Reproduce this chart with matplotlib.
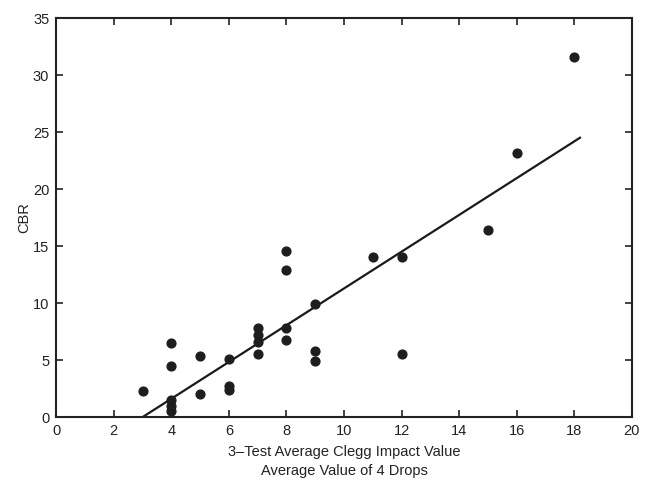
import numpy as np
import matplotlib.pyplot as plt

plt.rcParams['font.family'] = ['Liberation Sans', 'DejaVu Sans']

# clegg impact value vs CBR
clegg = [3, 4, 4, 4, 4, 4, 5, 5, 6, 6, 6, 7, 7, 7, 7, 8, 8, 8, 8,
         9, 9, 9, 11, 12, 12, 15, 16, 18]
cbr = [2.3, 6.5, 4.5, 1.5, 1.0, 0.5, 5.4, 2.0, 5.1, 2.7, 2.4, 7.8, 7.2, 6.6, 5.5,
       14.6, 12.9, 7.8, 6.8, 9.9, 5.8, 4.9, 14.0, 14.0, 5.5, 16.4, 23.2, 31.6]

# regression line end points
fit_x = [3.0, 18.2]
fit_y = [0.0, 24.5]

fig = plt.figure(figsize=(6.46, 4.8), dpi=100)
ax = fig.add_axes([0.087, 0.131, 0.891, 0.8315])

ax.scatter(clegg, cbr, s=40, color='#1e1e1e', zorder=3)
ax.plot(fit_x, fit_y, color='#1a1a1a', lw=1.6)

ax.set_xlim(0, 20)
ax.set_ylim(0, 35)
ax.set_xticks(np.arange(0, 21, 2))
ax.set_yticks(np.arange(0, 36, 5))
ax.tick_params(direction='in', top=True, right=True, labelsize=10.5,
               length=5, width=1.2, colors='#222222', pad=5)
for s in ax.spines.values():
    s.set_linewidth(1.5)
    s.set_color('#222222')

ax.set_xlabel("3\u2013Test Average Clegg Impact Value\nAverage Value of 4 Drops",
              fontsize=10.5, color='#222222', linespacing=1.45, labelpad=5)
ax.set_ylabel("CBR", fontsize=10.5, color='#222222', labelpad=1)

fig.savefig("out.png", dpi=100)
